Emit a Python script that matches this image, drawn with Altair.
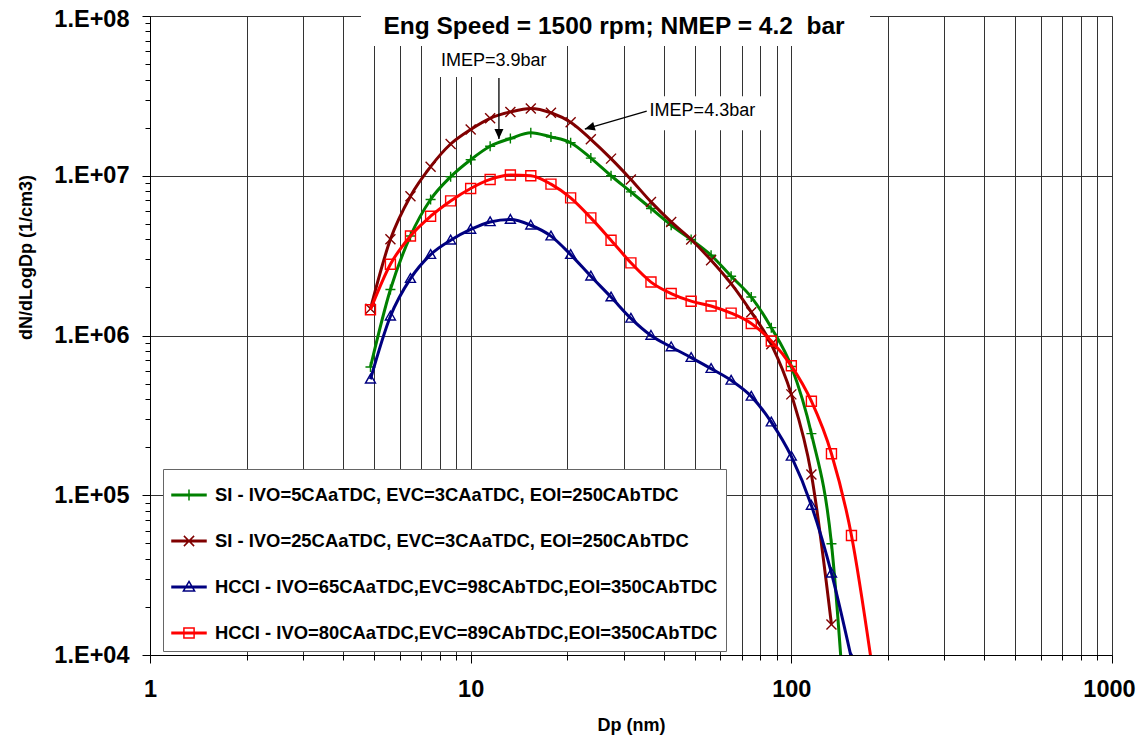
import altair as alt
import pandas as pd

# ---------------- data ----------------
DP = [4.87, 5.62, 6.49, 7.50, 8.66, 10.0, 11.5, 13.3, 15.4, 17.8, 20.5, 23.7, 27.4,
      31.6, 36.5, 42.2, 48.7, 56.2, 64.9, 75.0, 86.6, 100.0, 115.5, 133.4, 154.0, 177.8]

SERIES = [
    "SI - IVO=5CAaTDC, EVC=3CAaTDC, EOI=250CAbTDC",
    "SI - IVO=25CAaTDC, EVC=3CAaTDC, EOI=250CAbTDC",
    "HCCI - IVO=65CAaTDC,EVC=98CAbTDC,EOI=350CAbTDC",
    "HCCI - IVO=80CAaTDC,EVC=89CAbTDC,EOI=350CAbTDC",
]
COLORS = ["#008000", "#800000", "#000080", "#FF0000"]

SI_5 = [6.35e5, 1.94e6, 4.2e6, 7.1e6, 9.85e6, 1.26e7, 1.53e7, 1.71e7, 1.86e7, 1.75e7,
        1.61e7, 1.29e7, 1.0e7, 7.93e6, 6.24e6, 4.9e6, 3.99e6, 3.18e6, 2.35e6, 1.74e6,
        1.12e6, 6.4e5, 2.43e5, 4.97e4, 1.0e3]
SI_25 = [1.47e6, 4.0e6, 7.45e6, 1.14e7, 1.58e7, 1.95e7, 2.29e7, 2.51e7, 2.64e7, 2.48e7,
         2.16e7, 1.69e7, 1.28e7, 9.48e6, 6.86e6, 5.14e6, 3.99e6, 2.96e6, 2.11e6, 1.40e6,
         8.8e5, 4.28e5, 1.35e5, 1.55e4]
HCCI_65 = [5.32e5, 1.32e6, 2.27e6, 3.21e6, 3.95e6, 4.61e6, 5.14e6, 5.32e6, 4.9e6, 4.19e6,
           3.21e6, 2.35e6, 1.74e6, 1.28e6, 1.0e6, 8.47e5, 7.27e5, 6.2e5, 5.24e5, 4.16e5,
           2.87e5, 1.75e5, 8.63e4, 3.25e4, 9.5e3]
HCCI_80 = [1.45e6, 2.79e6, 4.2e6, 5.58e6, 6.96e6, 8.32e6, 9.48e6, 1.01e7, 1.0e7, 8.86e6,
           7.27e6, 5.45e6, 3.95e6, 2.85e6, 2.16e6, 1.83e6, 1.64e6, 1.53e6, 1.38e6, 1.19e6,
           9.24e5, 6.46e5, 3.88e5, 1.82e5, 5.6e4, 9.0e3]
VALUES = [SI_5, SI_25, HCCI_65, HCCI_80]

X_TICKS = [m * 10 ** e for e in range(0, 3) for m in range(1, 10)] + [1000]
Y_TICKS = [m * 10 ** e for e in range(4, 8) for m in range(1, 10)] + [10 ** 8]

TITLE = "Eng Speed = 1500 rpm; NMEP = 4.2\u00a0 bar"
ANNOT_TEXT = ["IMEP=3.9bar", "IMEP=4.3bar"]
ANNOT_X = [11.8, 52.8]
ANNOT_Y = [5.22e7, 2.54e7]
BOX_X = [7.25, 34.5]
BOX_X2 = [19.2, 86.0]
BOX_Y = [6.5e7, 3.15e7]
BOX_Y2 = [4.15e7, 1.93e7]
ARROW_X = [12.25, 35.4]
ARROW_Y = [4.09e7, 2.54e7]
ARROW_X2 = [12.25, 22.7]
ARROW_Y2 = [1.70e7, 1.96e7]
ARROW_ANGLE = [0, 73.8]

FONT = "Liberation Sans"

# marker shapes
PLOT_SHAPES = [
    "M-1,0H1M0,-1V1",
    "M-1,-1L1,1M-1,1L1,-1",
    "M0,-1L1,0.75L-1,0.75Z",
    "M-1,-1H1V1H-1Z",
]
LINE = "M-1,-0.045H1V0.045H-1Z"
LEGEND_SHAPES = [
    LINE + "M-0.33,0H0.33M0,-0.33V0.33",
    LINE + "M-0.3,-0.3L0.3,0.3M-0.3,0.3L0.3,-0.3",
    LINE + "M0,-0.33L0.33,0.24L-0.33,0.24Z",
    LINE + "M-0.3,-0.3H0.3V0.3H-0.3Z",
]

rows = []
for name, vals in zip(SERIES, VALUES):
    for d, v in zip(DP, vals):
        rows.append({"series": name, "dp": d, "value": v})
df = pd.DataFrame(rows)

# ---------------- scales & axes ----------------
MAJOR = "abs(log(datum.value)/LN10 - round(log(datum.value)/LN10)) < 0.001"
xscale = alt.Scale(type="log", domain=[1, 1000], nice=False)
yscale = alt.Scale(type="log", domain=[1e4, 1e8], nice=False)

x_axis = alt.Axis(
    values=X_TICKS, title="Dp (nm)", grid=True, gridColor="#333333", gridWidth=1,
    domainColor="black", tickColor="black",
    tickSize={"condition": {"test": MAJOR, "value": 8}, "value": 5},
    labelExpr=f"{MAJOR} ? format(datum.value, 'd') : ''",
    labelOffset={"condition": {"test": "datum.value > 500", "value": -3}, "value": 0},
    labelFont=FONT, labelFontSize=23.5, labelFontWeight="bold", labelColor="black",
    labelPadding=14, labelOverlap=False, labelFlush=False,
    titleFont=FONT, titleFontSize=18, titleFontWeight="bold", titleColor="black",
    titleY=70, titleBaseline="middle",
)
y_axis = alt.Axis(
    values=Y_TICKS, title="dN/dLogDp (1/cm3)", grid=True, gridColor="#333333", gridWidth=1,
    gridOpacity={"condition": {"test": MAJOR, "value": 1}, "value": 0},
    domainColor="black", tickColor="black",
    tickSize={"condition": {"test": MAJOR, "value": 8}, "value": 5},
    labelExpr=f"{MAJOR} ? '1.E+0' + round(log(datum.value)/LN10) : ''",
    labelOffset={"condition": {"test": "datum.value > 5e7", "value": 3.5}, "value": 0},
    labelFont=FONT, labelFontSize=23.5, labelFontWeight="bold", labelColor="black",
    labelPadding=13, labelOverlap=False, labelFlush=False,
    titleFont=FONT, titleFontSize=18, titleFontWeight="bold", titleColor="black",
    titleX=-124, titleY=241, titleAngle=270, titleAlign="center", titleBaseline="middle",
)


def X(field="dp"):
    return alt.X(f"{field}:Q", scale=xscale, axis=x_axis)


def Y(field="value"):
    return alt.Y(f"{field}:Q", scale=yscale, axis=y_axis)


layers = []

# white boxes behind annotation texts
ann = pd.DataFrame({"text": ANNOT_TEXT, "ax": ANNOT_X, "ay": ANNOT_Y,
                    "bx": BOX_X, "bx2": BOX_X2, "by": BOX_Y, "by2": BOX_Y2,
                    "rx": ARROW_X, "ry": ARROW_Y, "rx2": ARROW_X2, "ry2": ARROW_Y2,
                    "angle": ARROW_ANGLE})
layers.append(alt.Chart(ann).mark_rect(fill="white").encode(
    x=X("bx"), x2="bx2:Q", y=Y("by"), y2="by2:Q"))

# title box
layers.append(alt.Chart(pd.DataFrame({"t": [TITLE]})).mark_rect(fill="white").encode(
    x=alt.value(211), x2=alt.value(720), y=alt.value(-8), y2=alt.value(30)))

# series lines and markers
for name, color, shape in zip(SERIES, COLORS, PLOT_SHAPES):
    base = alt.Chart(df).transform_filter(alt.datum.series == name)
    layers.append(base.mark_line(color=color, strokeWidth=3, interpolate="monotone", clip=True)
                  .encode(x=X(), y=Y()))
    layers.append(base.mark_point(shape=shape, color=color, filled=False, size=100,
                                  strokeWidth=1.4, opacity=1, clip=True)
                  .encode(x=X(), y=Y()))

# arrows
layers.append(alt.Chart(ann).mark_rule(color="black", strokeWidth=1.3).encode(
    x=X("rx"), y=Y("ry"), x2="rx2:Q", y2="ry2:Q"))
layers.append(alt.Chart(ann).mark_point(shape="M0,0L-0.45,-1L0.45,-1Z", filled=True,
                                        color="black", size=400, opacity=1).encode(
    x=X("rx2"), y=Y("ry2"), angle=alt.Angle("angle:Q", scale=None)))
layers.append(alt.Chart(ann).mark_text(font=FONT, fontSize=18, color="black",
                                       align="center", baseline="middle").encode(
    x=X("ax"), y=Y("ay"), text="text:N"))

# chart title text
layers.append(alt.Chart(pd.DataFrame({"t": [TITLE]})).mark_text(
    font=FONT, fontSize=24.5, fontWeight="bold", color="black", align="center",
    baseline="alphabetic").encode(x=alt.value(464), y=alt.value(18), text="t:N"))

# legend driver (points outside the domain, clipped)
leg_df = pd.DataFrame({"series": SERIES, "dp": [0.3] * 4, "value": [1e2] * 4})
legend = alt.Legend(
    title=None, orient="none", legendX=13, legendY=453, fillColor="white",
    strokeColor="#666666", padding=8, symbolSize=1156, symbolStrokeWidth=1.5,
    rowPadding=18, labelOffset=8, labelFont=FONT, labelFontSize=18.4,
    labelFontWeight="bold", labelColor="black", labelLimit=1000, zindex=1,
)
layers.append(alt.Chart(leg_df).mark_point(filled=False, clip=True, opacity=1).encode(
    x=X(), y=Y(),
    color=alt.Color("series:N", scale=alt.Scale(domain=SERIES, range=COLORS),
                    sort=SERIES, legend=legend),
    shape=alt.Shape("series:N", scale=alt.Scale(domain=SERIES, range=LEGEND_SHAPES),
                    sort=SERIES, legend=legend),
))

chart = alt.layer(*layers).properties(
    width=962, height=639,
    autosize=alt.AutoSizeParams(type="none"),
    padding={"left": 142, "top": 8, "right": 24, "bottom": 80},
    background="white",
).configure_view(stroke=None)

chart.save("out.html", embed_options={"renderer": "svg", "actions": False})
